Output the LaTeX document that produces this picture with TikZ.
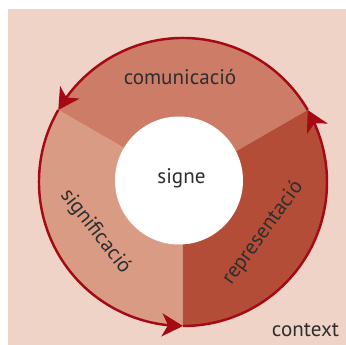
\documentclass[tikz,border=0pt]{standalone}
\usepackage{fontspec}
\setmainfont{PT Sans}
\usetikzlibrary{arrows.meta,bending}

\definecolor{sfondo}{HTML}{EFD3C6}
\definecolor{settoreA}{HTML}{CD7D67}
\definecolor{settoreB}{HTML}{DA9B85}
\definecolor{settoreC}{HTML}{B44D37}
\definecolor{rosso}{HTML}{A50A14}
\definecolor{testo}{HTML}{2E2E2E}

\begin{document}
\begin{tikzpicture}[
    etichetta/.style={text=testo, font=\fontsize{12}{14}\selectfont, inner sep=0pt},
    freccia/.style={draw=rosso, line width=1.4pt,
        -{Stealth[length=0.42cm, width=0.46cm, inset=0.12cm]}}
]

% Parametri
\def\raggio{2.88} % raggio del cerchio esterno
\def\raggiointerno{1.28}

\useasboundingbox (-3.66,-3.26) rectangle (3.26,3.64);
\fill[sfondo] (-3.50,-3.26) rectangle (3.26,3.46);

% Settori
\fill[settoreA] (0,0) -- (30:\raggio) arc (30:150:\raggio) -- cycle;
\fill[settoreB] (0,0) -- (150:\raggio) arc (150:270:\raggio) -- cycle;
\fill[settoreC] (0,0) -- (270:\raggio) arc (270:390:\raggio) -- cycle;

% Frecce sul bordo
\foreach \a in {30,150,270} {
    \draw[freccia] (\a:\raggio) arc (\a:\a+120:\raggio);
}

% Cerchio centrale
\node[circle, fill=white, minimum size=2*\raggiointerno cm, inner sep=0pt] (nucli) at (-0.08,0.03) {};
\node[etichetta, anchor=base] (signe) at (-0.03,-0.04) {signe};

% Scritte dei settori
\node[etichetta, anchor=base] (comunicacio) at (-0.06,1.94) {comunicació};
\node[etichetta, rotate=-52] (significacio) at (-1.75,-0.99) {significació};
\node[etichetta, rotate=54] (representacio) at (1.6,-1.02) {representació};

% Scritta in basso
\node[etichetta, anchor=base] (context) at (2.45,-3.09) {context};
\end{tikzpicture}
\end{document}
